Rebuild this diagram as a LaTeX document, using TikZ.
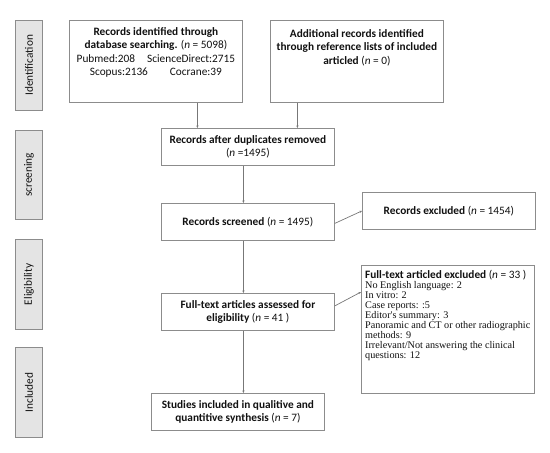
\documentclass[tikz,border=0pt]{standalone}
\usepackage{fontspec}
\setmainfont{Carlito}
\newfontfamily\tms{Liberation Serif}
\usetikzlibrary{arrows.meta}
\definecolor{frame}{HTML}{8C8C8C}
\definecolor{sidefill}{HTML}{E4E4E4}
\definecolor{ink}{HTML}{111111}
\begin{document}
\begin{tikzpicture}[x=1pt,y=-1pt,
  box/.style={draw=frame, line width=0.8pt, fill=white, anchor=north west, inner sep=0pt},
  side/.style={draw=frame, fill=sidefill, line width=0.8pt, anchor=north west, inner sep=0pt, minimum width=27pt},
  txt/.style={text=ink, font=\fontsize{11.3}{13.5}\selectfont, align=center, inner sep=0pt},
  sidetxt/.style={text=ink, font=\fontsize{11.3}{13.5}\selectfont, rotate=90, inner sep=0pt},
  conn/.style={draw=frame!85!black, line width=0.7pt, -{Stealth[length=2.5pt,width=2.2pt]}}]
\useasboundingbox (0,0) rectangle (550,453);
% side labels
\node[side, minimum height=90pt] (s1) at (15,20) {};
\node[sidetxt] (s1t) at (s1.center) {Identification};
\node[side, minimum height=89pt] (s2) at (15,130) {};
\node[sidetxt] (s2t) at (s2.center) {screening};
\node[side, minimum height=90pt] (s3) at (15,239) {};
\node[sidetxt] (s3t) at (s3.center) {Eligibility};
\node[side, minimum height=90pt] (s4) at (15,347) {};
\node[sidetxt] (s4t) at (s4.center) {Included};
% boxes
\node[box, minimum width=173pt, minimum height=82pt] (b1) at (69,20) {};
\node[txt, anchor=north] (t1) at ([yshift=-7pt]b1.north) {\textbf{Records identified through}\\\textbf{database searching.} (\textit{n} = 5098)\\Pubmed:208\hspace{12pt}ScienceDirect:2715\\Scopus:2136\hspace{22pt}Cocrane:39};
\node[box, minimum width=173pt, minimum height=82pt] (b2) at (270,20) {};
\node[txt, anchor=north] (t2) at ([yshift=-9pt]b2.north) {\textbf{Additional records identified}\\\textbf{through reference lists of included}\\\textbf{articled} (\textit{n} = 0)};
\node[box, minimum width=173pt, minimum height=37pt] (b3) at (161,128) {};
\node[txt] (t3) at (b3.center) {\textbf{Records after duplicates removed}\\(\textit{n} =1495)};
\node[box, minimum width=173pt, minimum height=37pt] (b4) at (161,203) {};
\node[txt] (t4) at (b4.center) {\textbf{Records screened} (\textit{n} = 1495)};
\node[box, minimum width=173pt, minimum height=37pt] (e1) at (362,192) {};
\node[txt] (te1) at (e1.center) {\textbf{Records excluded} (\textit{n} = 1454)};
\node[box, minimum width=173pt, minimum height=37pt] (b5) at (161,293) {};
\node[txt] (t5) at (b5.center) {\textbf{Full-text articles assessed for}\\\textbf{eligibility} (\textit{n} = 41 )};
\node[box, minimum width=173pt, minimum height=128pt] (e2) at (361,265) {};
\node[txt, anchor=north west, align=left, font=\tms\fontsize{10.2}{10}\selectfont] (te2) at ([xshift=4pt,yshift=-5pt]e2.north west)
  {{\rmfamily\fontsize{11.3}{13}\selectfont\textbf{Full-text articled excluded} (\textit{n} = 33 )}\\[0.5pt]
   No English language: 2\\In vitro: 2\\Case reports: :5\\Editor's summary: 3\\Panoramic and CT or other radiographic\\methods: 9\\Irrelevant/Not answering the clinical\\questions: 12};
\node[box, minimum width=173pt, minimum height=37pt] (b6) at (151,393) {};
\node[txt] (t6) at (b6.center) {\textbf{Studies included in qualitive and}\\\textbf{quantitive synthesis} (\textit{n} = 7)};
% connectors
\draw[conn] ([xshift=41.5pt]b1.south) -- ([xshift=41.5pt]b1.south |- b3.north);
\draw[conn] ([xshift=-59.5pt]b2.south) -- ([xshift=-59.5pt]b2.south |- b3.north);
\draw[conn] ([xshift=-4.5pt]b3.south) -- ([xshift=-4.5pt]b4.north);
\draw[conn] ([yshift=-1.5pt]b4.east) -- (e1.west);
\draw[conn] ([xshift=-4.5pt]b4.south) -- ([xshift=-4.5pt]b5.north);
\draw[conn] ([yshift=6pt]b5.east) -- ([yshift=-27pt]e2.north west);
\draw[conn] ([xshift=-4.5pt]b5.south) -- ([xshift=-4.5pt]b5.south |- b6.north);
\end{tikzpicture}
\end{document}
